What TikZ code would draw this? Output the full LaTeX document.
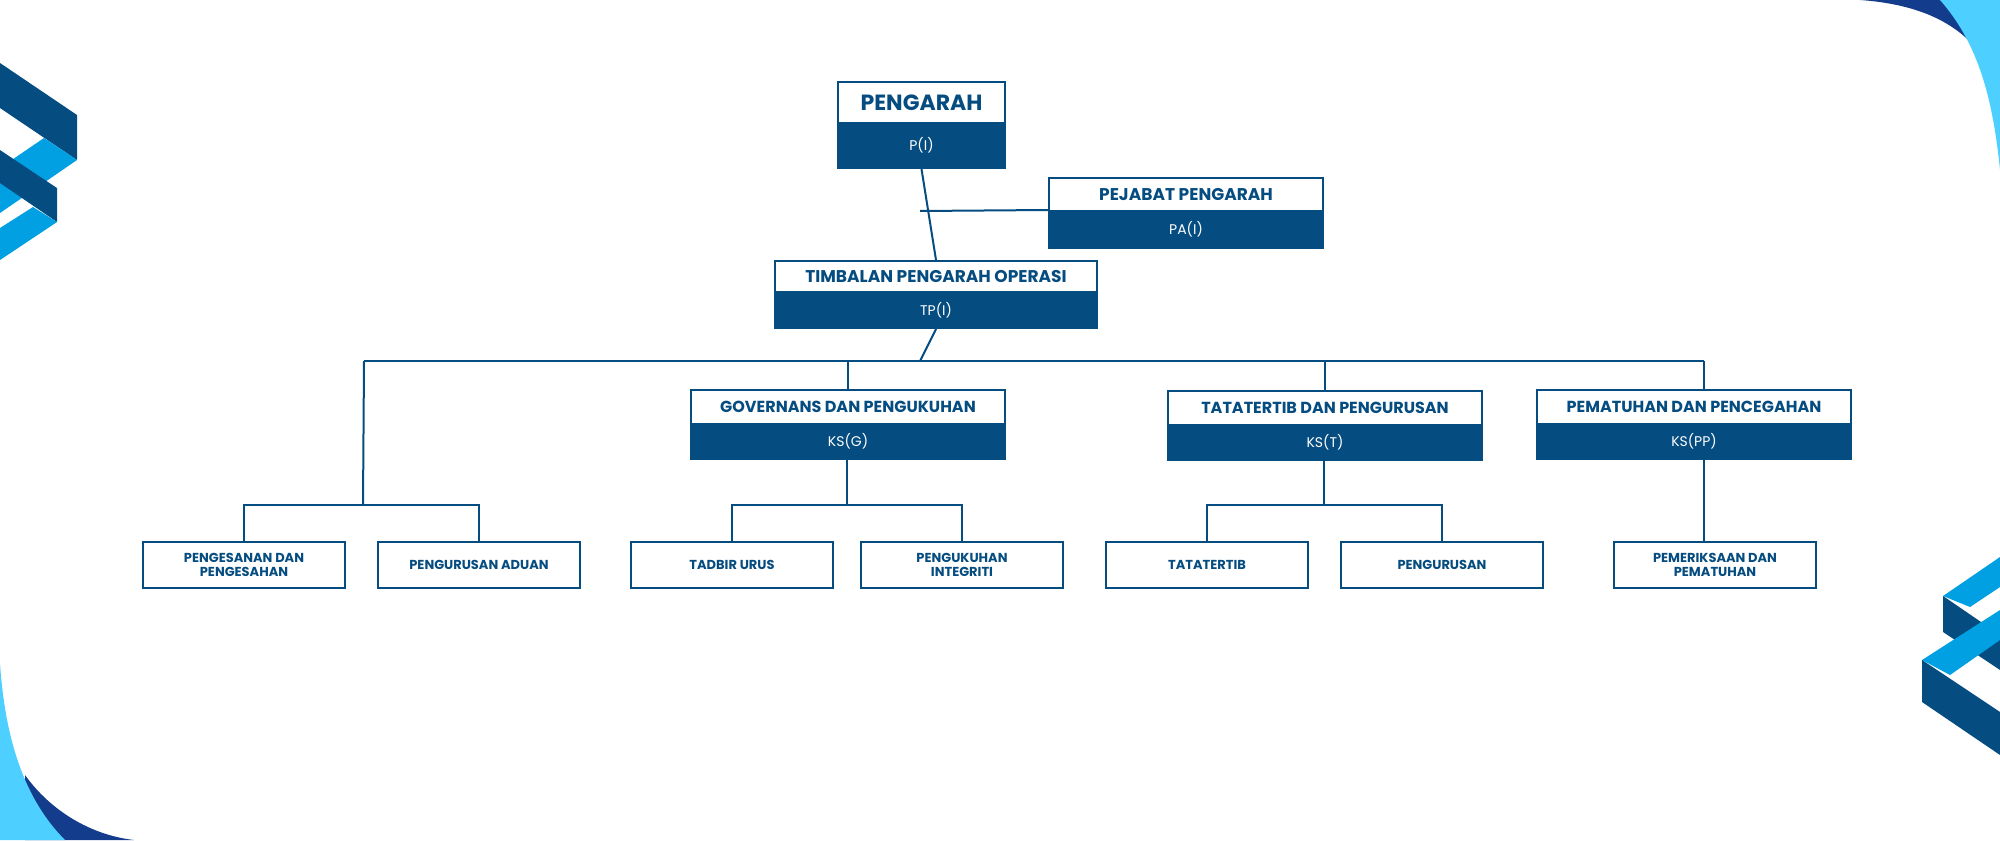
\documentclass[tikz,border=0pt]{standalone}
\usepackage{fontspec}
\setmainfont{Poppins}
\usetikzlibrary{positioning}
\definecolor{navy}{HTML}{054C80}
\definecolor{skyblue}{HTML}{4DD0FF}
\definecolor{midblue}{HTML}{00A0E3}
\definecolor{deepblue}{HTML}{143C8C}

\tikzset{
    title/.style={draw=navy, line width=1pt, fill=white, text=navy,
        font=\bfseries, inner sep=0, anchor=north west},
    code/.style={draw=navy, line width=1pt, fill=navy, text=white,
        font=\fontsize{7}{8}\selectfont, inner sep=0, anchor=north west},
    leaf/.style={draw=navy, line width=1pt, fill=white, text=navy,
        font=\bfseries\fontsize{6.5}{7}\selectfont, align=center,
        minimum width=101pt, minimum height=23pt, inner sep=0},
    link/.style={navy, line width=1pt}
}

\begin{document}
\begin{tikzpicture}[x=0.5pt, y=-0.5pt]

% Page and corner ornaments

\useasboundingbox (0,0) rectangle (2000,840);

\fill [navy] (0,63) -- (77,115) -- (77,160) -- (0,108) -- cycle;
\fill [midblue] (0,213) -- (77,160) -- (44,138) -- (0,168) -- cycle;
\fill [navy] (0,150) -- (57,188) -- (57,222) -- (0,183) -- cycle;
\fill [midblue] (0,260) -- (57,222) -- (33,207) -- (0,228) -- cycle;

\fill [deepblue] (1860,0) .. controls (1930,5) and (1965,30) .. (1985,60)
    -- (2000,60) -- (2000,0) -- cycle;
\fill [skyblue] (1940,0) .. controls (1975,40) and (1992,90) .. (2000,170)
    -- (2000,0) -- cycle;

\fill [deepblue] (25,775) .. controls (50,810) and (90,835) .. (134,840)
    -- (25,840) -- cycle;
\fill [skyblue] (0,663) .. controls (5,740) and (25,800) .. (65,840)
    -- (0,840) -- cycle;

\fill [midblue] (1943,596) -- (2000,557) -- (2000,587) -- (1970,607) -- cycle;
\fill [navy] (1943,596) -- (2000,635) -- (2000,670) -- (1943,632) -- cycle;
\fill [midblue] (1922,660) -- (2000,610) -- (2000,640) -- (1950,675) -- cycle;
\fill [navy] (1922,660) -- (2000,712) -- (2000,755) -- (1922,702) -- cycle;

% Top units

\node [title, minimum width=83.5pt, minimum height=20.5pt,
    font=\bfseries\fontsize{11}{12}\selectfont] (pengarah) at (837,81) {PENGARAH};
\node [code, minimum width=83.5pt, minimum height=22.5pt] (pengarah code)
    at (837,122) {P(I)};

\node [title, minimum width=137pt, minimum height=16.5pt,
    font=\bfseries\fontsize{8.5}{9}\selectfont] (pejabat) at (1048,177) {PEJABAT PENGARAH};
\node [code, minimum width=137pt, minimum height=18.5pt] (pejabat code)
    at (1048,210) {PA(I)};

\node [title, minimum width=161pt, minimum height=15.5pt,
    font=\bfseries\fontsize{8.5}{9}\selectfont] (timbalan) at (774,260) {TIMBALAN PENGARAH OPERASI};
\node [code, minimum width=161pt, minimum height=18pt] (timbalan code)
    at (774,291) {TP(I)};

% Sector units

\node [title, minimum width=157pt, minimum height=17pt,
    font=\bfseries\fontsize{8}{9}\selectfont] (gov) at (690,389) {GOVERNANS DAN PENGUKUHAN};
\node [code, minimum width=157pt, minimum height=17.5pt] (gov code)
    at (690,423) {KS(G)};

\node [title, minimum width=157pt, minimum height=17pt,
    font=\bfseries\fontsize{8}{9}\selectfont] (tata) at (1167,390) {TATATERTIB DAN PENGURUSAN};
\node [code, minimum width=157pt, minimum height=17.5pt] (tata code)
    at (1167,424) {KS(T)};

\node [title, minimum width=157pt, minimum height=17pt,
    font=\bfseries\fontsize{8}{9}\selectfont] (pp) at (1536,389) {PEMATUHAN DAN PENCEGAHAN};
\node [code, minimum width=157pt, minimum height=17.5pt] (pp code)
    at (1536,423) {KS(PP)};

% Leaf units

\node [leaf] (sah) at (244,565) {PENGESANAN DAN\\PENGESAHAN};
\node [leaf] (aduan) at (479,565) {PENGURUSAN ADUAN};
\node [leaf] (tadbir) at (732,565) {TADBIR URUS};
\node [leaf] (integriti) at (962,565) {PENGUKUHAN\\INTEGRITI};
\node [leaf] (tatatertib) at (1207,565) {TATATERTIB};
\node [leaf] (urus) at (1442,565) {PENGURUSAN};
\node [leaf] (periksa) at (1715,565) {PEMERIKSAAN DAN\\PEMATUHAN};

% Connectors

\coordinate (bus left) at (364,361);
\coordinate (bus right) at (1704,361);
\coordinate (left fork) at (363,505);

\draw [link] (pengarah code.south) -- (timbalan.north);
\draw [link] (920,211) -- (pejabat code.north west);
\draw [link] (timbalan code.south) -- (920,361);
\draw [link] (bus left) -- (bus right);
\draw [link] (bus left) -- (left fork);
\draw [link] (848,361) -- (848,389);
\draw [link] (1325,361) -- (1325,390);
\draw [link] (bus right) -- (1704,389);

\draw [link] (sah.north) |- (left fork) -| (aduan.north);
\draw [link] (847,458) -- (847,505);
\draw [link] (tadbir.north) |- (847,505) -| (integriti.north);
\draw [link] (1324,459) -- (1324,505);
\draw [link] (tatatertib.north) |- (1324,505) -| (urus.north);
\draw [link] (1704,458) -- (1704,542);

\end{tikzpicture}
\end{document}
